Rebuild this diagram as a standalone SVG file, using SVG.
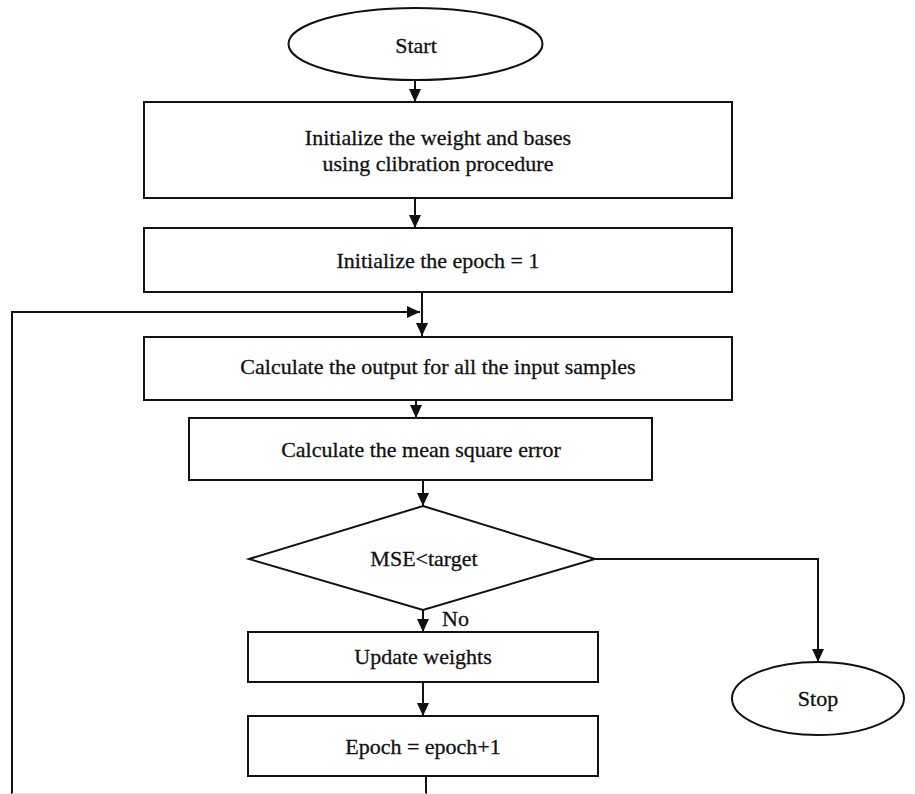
<svg xmlns="http://www.w3.org/2000/svg" width="915" height="794" viewBox="0 0 915 794">
<style>
.n{fill:#fff;stroke:#111;stroke-width:2}
.t{font-family:"Liberation Serif","Times New Roman",serif;font-size:22px;fill:#111;text-anchor:middle;stroke:#111;stroke-width:0.3}
.c{fill:none;stroke:#111;stroke-width:2}
</style>
<defs>
<marker id="ah" markerUnits="userSpaceOnUse" markerWidth="14" markerHeight="14" refX="13" refY="6" orient="auto">
<path d="M0,0 L13,6 L0,12 z" fill="#111"/>
</marker>
</defs>
<rect width="915" height="794" fill="#fff"/>
<g id="connectors">
<line class="c" x1="415" y1="80" x2="415" y2="102" marker-end="url(#ah)"/>
<line class="c" x1="415" y1="198" x2="415" y2="228" marker-end="url(#ah)"/>
<line class="c" x1="422" y1="292" x2="422" y2="336" marker-end="url(#ah)"/>
<polyline class="c" points="12,800 12,312 420,312" marker-end="url(#ah)"/>
<line class="c" x1="416" y1="400" x2="416" y2="418" marker-end="url(#ah)"/>
<line class="c" x1="423" y1="480" x2="423" y2="506" marker-end="url(#ah)"/>
<line class="c" x1="423" y1="610" x2="423" y2="632" marker-end="url(#ah)"/>
<line class="c" x1="423" y1="682" x2="423" y2="716" marker-end="url(#ah)"/>
<line class="c" x1="426" y1="776" x2="426" y2="800"/>
<polyline class="c" points="595,559 818,559 818,662" marker-end="url(#ah)"/>
<line x1="12" y1="793.5" x2="426" y2="793.5" stroke="#ddd" stroke-width="1"/>
<text class="t" x="442" y="626" style="text-anchor:start">No</text>
</g>
<g id="start">
<ellipse class="n" cx="415.5" cy="44" rx="127" ry="36"/>
<text class="t" x="416" y="53">Start</text>
</g>
<g id="init-weights">
<rect class="n" x="144" y="102" width="588" height="96"/>
<text class="t" x="438" y="145">Initialize the weight and bases</text>
<text class="t" x="438" y="171">using clibration procedure</text>
</g>
<g id="init-epoch">
<rect class="n" x="144" y="228" width="588" height="64"/>
<text class="t" x="438" y="268">Initialize the epoch = 1</text>
</g>
<g id="calc-output">
<rect class="n" x="144" y="337" width="588" height="63"/>
<text class="t" x="438" y="374">Calculate the output for all the input samples</text>
</g>
<g id="calc-mse">
<rect class="n" x="189" y="418" width="463" height="62"/>
<text class="t" x="421" y="457">Calculate the mean square error</text>
</g>
<g id="decision">
<polygon class="n" points="423,506 595,559 423,610 249,559"/>
<text class="t" x="424" y="566">MSE&lt;target</text>
</g>
<g id="update-weights">
<rect class="n" x="248" y="632" width="350" height="50"/>
<text class="t" x="423" y="664">Update weights</text>
</g>
<g id="increment-epoch">
<rect class="n" x="248" y="716" width="350" height="60"/>
<text class="t" x="423" y="754">Epoch = epoch+1</text>
</g>
<g id="stop">
<ellipse class="n" cx="818" cy="698.5" rx="86" ry="36.5"/>
<text class="t" x="818" y="706">Stop</text>
</g>
</svg>
